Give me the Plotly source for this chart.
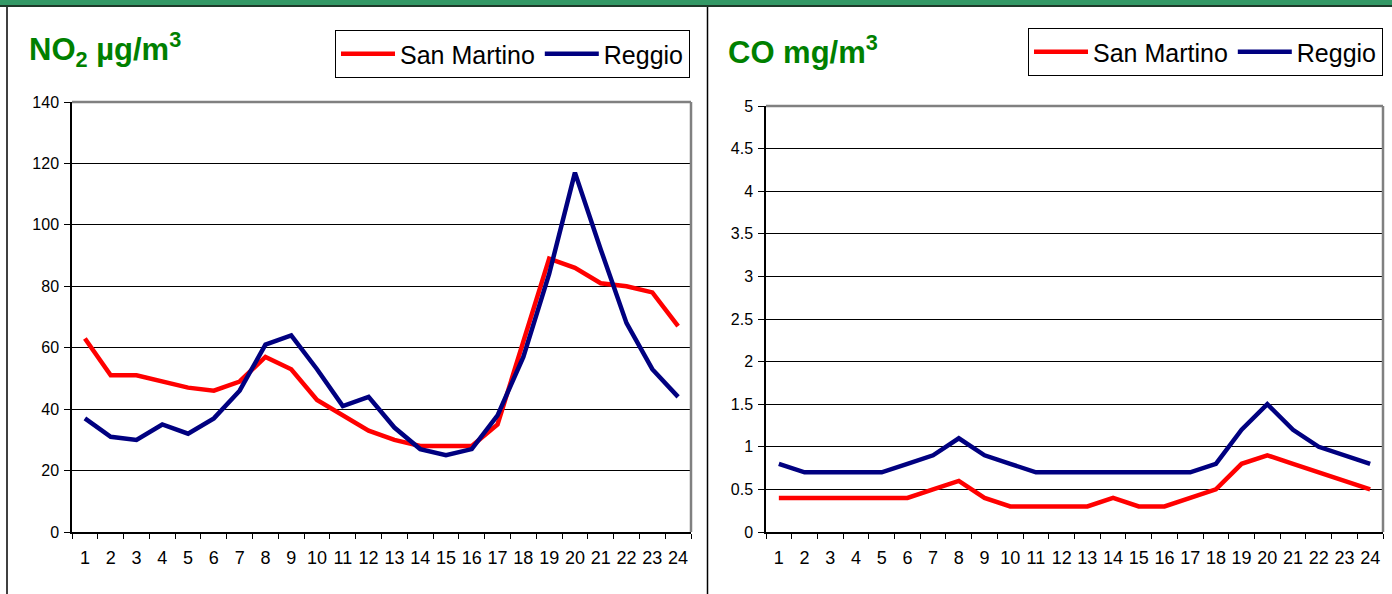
import plotly.graph_objects as go

hours = list(range(1, 25))
hour_labels = [str(h) for h in hours]

no2_san_martino = [63, 51, 51, 49, 47, 46, 49, 57, 53, 43, 38, 33, 30, 28, 28, 28, 35, 62, 89, 86, 81, 80, 78, 67]
no2_reggio = [37, 31, 30, 35, 32, 37, 46, 61, 64, 53, 41, 44, 34, 27, 25, 27, 38, 57, 84, 117, 92, 68, 53, 44]

co_san_martino = [0.4, 0.4, 0.4, 0.4, 0.4, 0.4, 0.5, 0.6, 0.4, 0.3, 0.3, 0.3, 0.3, 0.4, 0.3, 0.3, 0.4, 0.5, 0.8, 0.9, 0.8, 0.7, 0.6, 0.5]
co_reggio = [0.8, 0.7, 0.7, 0.7, 0.7, 0.8, 0.9, 1.1, 0.9, 0.8, 0.7, 0.7, 0.7, 0.7, 0.7, 0.7, 0.7, 0.8, 1.2, 1.5, 1.2, 1.0, 0.9, 0.8]

series_names = ["San Martino", "Reggio"]
series_colors = ["#FF0000", "#000080"]

W, H = 1392, 594
FONT = "Liberation Sans, Arial, sans-serif"

def px(x):
    return x / W

def py(y):
    return 1 - y / H

fig = go.Figure()

for vals, name, col in zip([no2_san_martino, no2_reggio], series_names, series_colors):
    fig.add_trace(go.Scatter(x=hours, y=vals, mode="lines", name=name,
                             line=dict(color=col, width=4.5), xaxis="x", yaxis="y",
                             legend="legend"))
for vals, name, col in zip([co_san_martino, co_reggio], series_names, series_colors):
    fig.add_trace(go.Scatter(x=hours, y=vals, mode="lines", name=name,
                             line=dict(color=col, width=4.5), xaxis="x2", yaxis="y2",
                             legend="legend2"))

boundaries = [h - 0.5 for h in hours] + [hours[-1] + 0.5]

xcommon = dict(range=[hours[0] - 0.5, hours[-1] + 0.5], tickmode="array",
               tickvals=hours, ticktext=hour_labels, ticks="",
               minor=dict(tickmode="array", tickvals=boundaries, ticks="outside",
                          ticklen=5, tickcolor="black", showgrid=False),
               showline=True, linecolor="black", linewidth=1.5, zeroline=False,
               showgrid=False, tickfont=dict(family=FONT, size=18, color="black"),
               ticklabelstandoff=9, automargin=False, tickangle=0)
ycommon = dict(ticks="outside", ticklen=6, tickcolor="black", showline=True,
               linecolor="black", linewidth=1.5, showgrid=True, gridcolor="black",
               gridwidth=1, zeroline=False, automargin=False, ticklabelstandoff=2,
               tickfont=dict(family=FONT, size=16, color="black"))

legend_common = dict(orientation="h", xanchor="right", yanchor="top",
                     bordercolor="black", borderwidth=1, bgcolor="white",
                     font=dict(family=FONT, size=25, color="black"), itemwidth=54,
                     tracegroupgap=0)

fig.update_layout(
    template="none",
    font=dict(family=FONT, color="black"),
    width=W, height=H,
    margin=dict(l=0, r=0, t=0, b=0, pad=0, autoexpand=False),
    paper_bgcolor="white", plot_bgcolor="white",
    xaxis=dict(domain=[px(72), px(691)], anchor="y", **xcommon),
    yaxis=dict(domain=[py(532), py(102)], anchor="x", range=[0, 140], dtick=20,
               **ycommon),
    xaxis2=dict(domain=[px(766), px(1383)], anchor="y2", **xcommon),
    yaxis2=dict(domain=[py(532), py(106)], anchor="x2", range=[0, 5], dtick=0.5,
                **ycommon),
    legend=dict(x=px(690), y=py(30), **legend_common),
    legend2=dict(x=px(1383), y=py(28), **legend_common),
    showlegend=True,
)

shapes = [
    # green band at top
    dict(type="rect", xref="paper", yref="paper", x0=0, x1=1, y0=py(6), y1=1,
         fillcolor="#339966", line=dict(width=0), layer="above"),
    dict(type="line", xref="paper", yref="paper", x0=0, x1=1, y0=py(6), y1=py(6),
         line=dict(color="#1e3a2a", width=2)),
    # panel separators
    dict(type="line", xref="paper", yref="paper", x0=px(7), x1=px(7), y0=0, y1=py(7),
         line=dict(color="black", width=1.5)),
    dict(type="line", xref="paper", yref="paper", x0=px(707.5), x1=px(707.5), y0=0, y1=py(7),
         line=dict(color="black", width=1.5)),
]
for xr, yr in [("x", "y"), ("x2", "y2")]:
    shapes.append(dict(type="line", xref=f"{xr} domain", yref=f"{yr} domain",
                       x0=0, x1=1, y0=1, y1=1, line=dict(color="#808080", width=2.5)))
    shapes.append(dict(type="line", xref=f"{xr} domain", yref=f"{yr} domain",
                       x0=1, x1=1, y0=0, y1=1, line=dict(color="#808080", width=2.5)))
fig.update_layout(shapes=shapes)

fig.add_annotation(text="NO<sub>2</sub> µg/m<sup>3</sup>", xref="paper", yref="paper",
                   x=px(27), y=py(50), xanchor="left", yanchor="middle", showarrow=False,
                   font=dict(family=FONT, size=31, color="#008000", weight="bold"))
fig.add_annotation(text="CO mg/m<sup>3</sup>", xref="paper", yref="paper",
                   x=px(726), y=py(50), xanchor="left", yanchor="middle", showarrow=False,
                   font=dict(family=FONT, size=31, color="#008000", weight="bold"))

fig.write_html("out.html", config={"responsive": False, "displayModeBar": False},
               post_script="document.body.style.margin='0';document.body.style.overflow='hidden';")
